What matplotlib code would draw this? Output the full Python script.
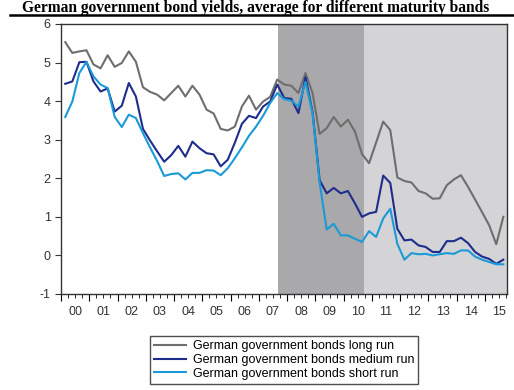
import numpy as np
import pandas as pd
from matplotlib import pyplot as plt
from matplotlib.lines import Line2D
from matplotlib.ticker import FixedLocator, MultipleLocator, NullFormatter

# quarterly observations 2000Q1 - 2015Q3
quarters = pd.period_range("2000Q1", "2015Q3", freq="Q")
long_run = [5.53, 5.25, 5.29, 5.32, 4.95, 4.85, 5.19, 4.89, 4.99, 5.29,
            5.02, 4.36, 4.24, 4.17, 4.02, 4.21, 4.40, 4.12, 4.40, 4.17,
            3.78, 3.68, 3.28, 3.24, 3.34, 3.86, 4.14, 3.78, 3.99, 4.11,
            4.56, 4.43, 4.40, 4.21, 4.73, 4.21, 3.15, 3.30, 3.59, 3.34,
            3.52, 3.21, 2.63, 2.39, 2.93, 3.47, 3.25, 2.02, 1.93, 1.89,
            1.67, 1.61, 1.47, 1.48, 1.82, 1.97, 2.08, 1.78, 1.45, 1.12,
            0.78, 0.29, 1.00]
medium_run = [4.45, 4.51, 5.01, 5.02, 4.51, 4.25, 4.33, 3.73, 3.88, 4.47,
              4.12, 3.28, 2.98, 2.70, 2.43, 2.60, 2.84, 2.56, 2.95, 2.78,
              2.65, 2.62, 2.31, 2.48, 2.92, 3.41, 3.62, 3.56, 3.86, 3.99,
              4.43, 4.08, 4.06, 3.69, 4.62, 3.72, 1.95, 1.61, 1.75, 1.61,
              1.67, 1.35, 1.00, 1.09, 1.13, 2.07, 1.88, 0.69, 0.39, 0.41,
              0.26, 0.22, 0.09, 0.09, 0.37, 0.37, 0.46, 0.32, 0.09, -0.03,
              -0.09, -0.22, -0.11]
short_run = [3.59, 3.99, 4.73, 5.02, 4.64, 4.43, 4.34, 3.59, 3.33, 3.65,
             3.56, 3.17, 2.80, 2.45, 2.06, 2.11, 2.13, 1.97, 2.14, 2.14,
             2.21, 2.20, 2.08, 2.26, 2.52, 2.80, 3.10, 3.34, 3.62, 3.95,
             4.21, 4.05, 4.01, 3.86, 4.50, 3.69, 1.90, 0.67, 0.82, 0.52,
             0.52, 0.43, 0.35, 0.63, 0.48, 0.96, 1.21, 0.30, -0.11, 0.06,
             0.03, 0.04, 0.00, 0.03, 0.06, 0.04, 0.13, 0.13, -0.03, -0.11,
             -0.17, -0.23, -0.23]
year_labels = ["00", "01", "02", "03", "04", "05", "06", "07",
               "08", "09", "10", "11", "12", "13", "14", "15"]
crisis_start = 2007.67
crisis_end = 2010.72

t = np.array([q.year + (q.quarter - 1) / 4 + 0.15 for q in quarters])
x_end = 2015.78

c_long = "#6e6e6e"
c_medium = "#1e2d8c"
c_short = "#1b9ad8"

plt.rcParams["font.family"] = ["Liberation Sans", "DejaVu Sans"]
plt.rcParams["axes.unicode_minus"] = False

fig = plt.figure(figsize=(5.14, 3.9), dpi=100)
ax = fig.add_axes([61 / 514, 1 - 294 / 390, 446 / 514, 270 / 390])

ax.axvspan(crisis_start, crisis_end, color="#a9a8ab", lw=0, zorder=0)
ax.axvspan(crisis_end, x_end, color="#d4d3d6", lw=0, zorder=0)

ax.plot(t, long_run, color=c_long, lw=1.5)
ax.plot(t, medium_run, color=c_medium, lw=1.5)
ax.plot(t, short_run, color=c_short, lw=1.5)

ax.set_xlim(2000, x_end)
ax.set_ylim(-1, 6)
ax.yaxis.set_major_locator(MultipleLocator(1))
ax.tick_params(axis="y", direction="out", length=4, labelsize=9, colors="#333333")

years = np.arange(2000, 2016)
ax.xaxis.set_major_locator(FixedLocator(years))
ax.xaxis.set_major_formatter(NullFormatter())
ax.xaxis.set_minor_locator(MultipleLocator(0.25))
ax.tick_params(axis="x", which="major", direction="out", length=5)
ax.tick_params(axis="x", which="minor", direction="out", length=3)
for yr, lab in zip(years, year_labels):
    ax.text(yr + 0.5, -0.045, lab, transform=ax.get_xaxis_transform(),
            ha="center", va="top", fontsize=9, color="#333333")

for s in ax.spines.values():
    s.set_color("#333333")
    s.set_linewidth(1.0)

handles = [Line2D([], [], color=c, lw=1.5) for c in (c_long, c_medium, c_short)]
labels = ["German government bonds long run",
          "German government bonds medium run",
          "German government bonds short run"]
fig.legend(handles, labels, loc="upper center", bbox_to_anchor=(284 / 514, 1 - 330 / 390),
           fontsize=9, frameon=True, fancybox=False, edgecolor="#222222",
           handlelength=2.6, handletextpad=0.5, labelspacing=0.15,
           borderpad=0.3)

fig.text(22 / 514, 1 - 8 / 390, "German government bond yields, average for different maturity bands",
         ha="left", va="center", fontsize=11.2, fontweight="bold",
         family=["Liberation Serif"])
fig.add_artist(Line2D([10 / 514, 1.0], [1 - 15 / 390, 1 - 15 / 390], color="black", lw=1.8))

fig.savefig("out.png", dpi=100)
